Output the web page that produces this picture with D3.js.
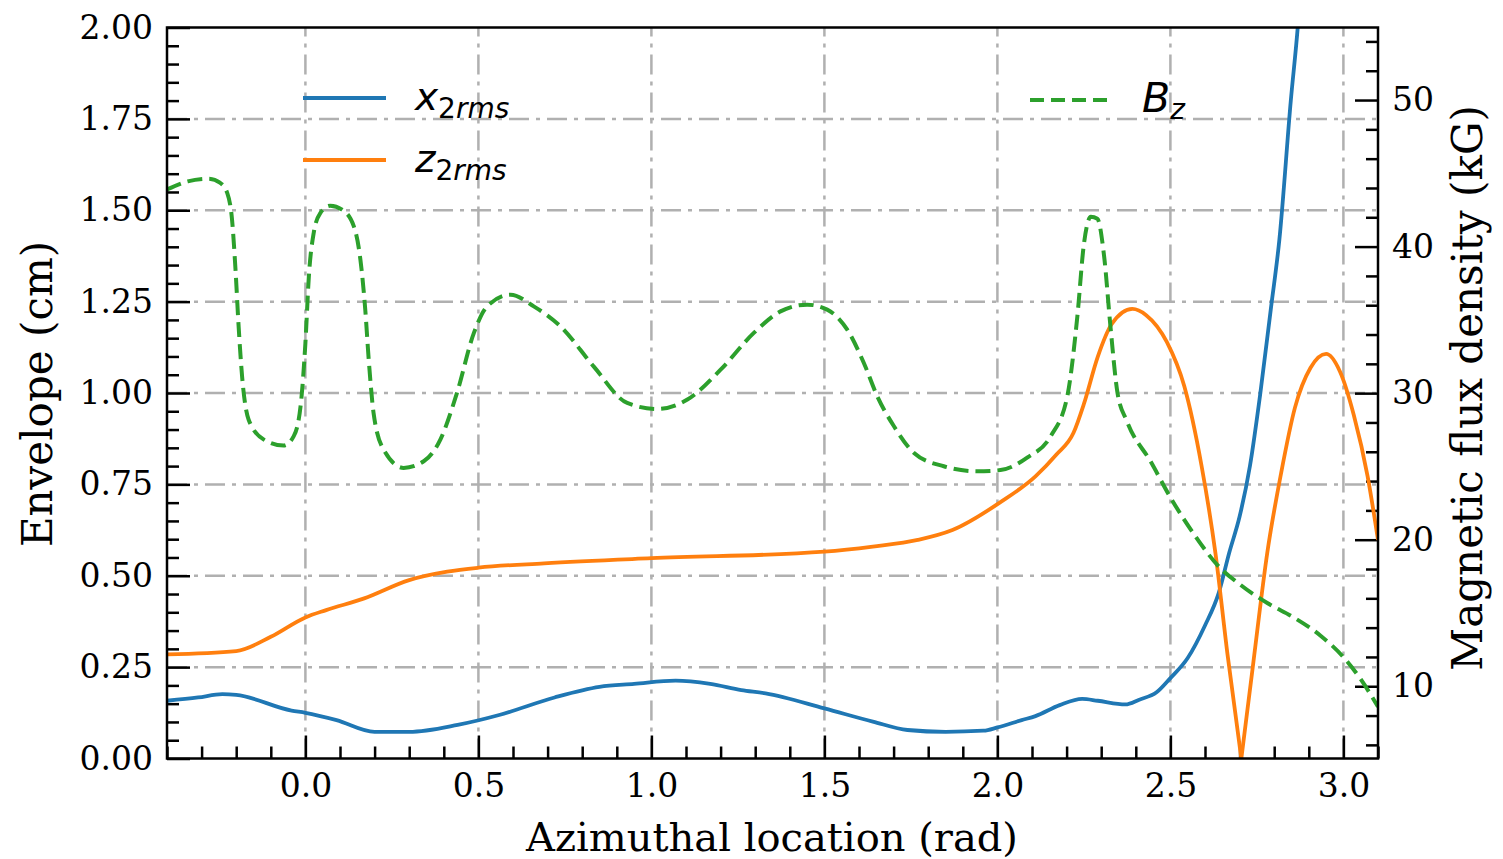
<!DOCTYPE html>
<html>
<head>
<meta charset="utf-8">
<script src="https://cdn.jsdelivr.net/npm/d3@7"></script>
<style>
  body { margin: 0; background: #fff; }
  text { font-family: "DejaVu Serif", serif; fill: #000; }
</style>
</head>
<body>
<div id="chart"></div>
<script>
//x_2rms envelope (cm) vs azimuth (rad)
var xrmsPhi = [-0.40, -0.31, -0.24, -0.20, -0.04, 0.00, 0.09, 0.20, 0.30, 0.44, 0.56, 0.72, 0.85, 0.95, 1.07, 1.17, 1.26, 1.33, 1.50, 1.64, 1.74, 1.85, 1.96, 2.00, 2.07, 2.11, 2.18, 2.245, 2.29, 2.37, 2.41, 2.46, 2.50, 2.55, 2.60, 2.64, 2.67, 2.70, 2.73, 2.76, 2.79, 2.815, 2.848, 2.868, 2.89];
var xrmsVal = [0.158, 0.167, 0.176, 0.174, 0.131, 0.125, 0.105, 0.073, 0.073, 0.092, 0.119, 0.167, 0.196, 0.204, 0.213, 0.204, 0.187, 0.178, 0.137, 0.101, 0.078, 0.073, 0.076, 0.085, 0.105, 0.116, 0.146, 0.163, 0.158, 0.148, 0.161, 0.181, 0.220, 0.275, 0.364, 0.454, 0.563, 0.662, 0.801, 1.000, 1.228, 1.42, 1.80, 2.00, 2.30];

//z_2rms envelope (cm)
var zrmsPhi = [-0.40, -0.20, -0.10, 0.00, 0.06, 0.17, 0.30, 0.41, 0.50, 0.69, 1.00, 1.50, 1.64, 1.77, 1.87, 2.01, 2.11, 2.17, 2.22, 2.25, 2.29, 2.33, 2.39, 2.43, 2.49, 2.54, 2.59, 2.63, 2.665, 2.705, 2.74, 2.78, 2.82, 2.86, 2.905, 2.95, 2.99, 3.03, 3.07, 3.10];
var zrmsVal = [0.285, 0.294, 0.333, 0.386, 0.406, 0.438, 0.488, 0.511, 0.522, 0.534, 0.548, 0.566, 0.580, 0.598, 0.625, 0.702, 0.772, 0.831, 0.891, 0.970, 1.099, 1.188, 1.230, 1.213, 1.139, 1.019, 0.801, 0.563, 0.285, 0.0, 0.265, 0.563, 0.781, 0.960, 1.069, 1.107, 1.059, 0.940, 0.772, 0.598];

//Bz magnetic flux density (kG)
var bzPhi = [-0.40, -0.34, -0.28, -0.246, -0.226, -0.212, -0.202, -0.193, -0.183, -0.164, -0.120, -0.063, -0.034, -0.014, 0.000, 0.010, 0.024, 0.043, 0.072, 0.106, 0.140, 0.159, 0.173, 0.183, 0.197, 0.226, 0.284, 0.342, 0.390, 0.438, 0.487, 0.525, 0.593, 0.660, 0.737, 0.833, 0.930, 1.017, 1.104, 1.200, 1.296, 1.373, 1.450, 1.508, 1.566, 1.614, 1.653, 1.701, 1.759, 1.845, 1.942, 2.009, 2.086, 2.154, 2.202, 2.231, 2.250, 2.270, 2.289, 2.308, 2.327, 2.347, 2.375, 2.443, 2.501, 2.568, 2.636, 2.703, 2.780, 2.857, 2.934, 3.001, 3.050, 3.100];
var bzVal = [43.9, 44.45, 44.63, 44.34, 43.66, 41.83, 38.42, 34.56, 31.15, 28.19, 26.83, 26.42, 27.05, 29.10, 33.42, 37.97, 40.93, 42.29, 42.79, 42.52, 41.38, 39.11, 35.70, 32.29, 28.65, 26.15, 24.90, 25.35, 26.83, 30.01, 34.11, 35.92, 36.72, 35.92, 34.56, 31.83, 29.33, 28.92, 29.56, 31.60, 34.11, 35.58, 36.04, 35.70, 34.33, 32.06, 29.78, 27.74, 25.92, 25.01, 24.67, 24.75, 25.6, 27.06, 29.78, 35.22, 40.17, 42.03, 41.90, 39.43, 34.48, 30.03, 28.05, 25.33, 22.85, 20.38, 18.27, 16.91, 15.68, 14.69, 13.45, 11.96, 10.48, 8.6];

//tick values
var xMajor = [0.0, 0.5, 1.0, 1.5, 2.0, 2.5, 3.0];
var yMajor = [0.00, 0.25, 0.50, 0.75, 1.00, 1.25, 1.50, 1.75, 2.00];
var bMajor = [10, 20, 30, 40, 50];

var xMinor = d3.range(-4, 32).filter(function(i) { return ((i % 5) + 5) % 5 !== 0; }).map(function(i) { return i / 10; });
var yMinor = d3.range(1, 40).filter(function(i) { return i % 5 !== 0; }).map(function(i) { return i * 0.05; });
var bMinor = d3.range(6, 56, 2).filter(function(v) { return v % 10 !== 0; });

//set the dimensions and margins of the graph
var margin = {top: 27.5, right: 125, bottom: 100.5, left: 167},
    width = 1503 - margin.left - margin.right,
    height = 859 - margin.top - margin.bottom;

var svg = d3.select("#chart").append("svg")
    .attr("width", 1503)
    .attr("height", 859)
    .append("g")
    .attr("transform", "translate(" + margin.left + "," + margin.top + ")");

var x = d3.scaleLinear().domain([-0.4, 3.1]).range([0, width]);
var y = d3.scaleLinear().domain([0, 2]).range([height, 0]);
var yB = d3.scaleLinear().domain([5.07, 54.95]).range([height, 0]);

svg.append("defs").append("clipPath").attr("id", "clip")
    .append("rect").attr("width", width).attr("height", height);

//grid
var grid = svg.append("g").attr("stroke", "#b0b0b0").attr("stroke-width", 2.5)
    .attr("stroke-dasharray", "20,7,4,7");
grid.selectAll(".gx").data(xMajor).join("line")
    .attr("x1", function(d) { return x(d); }).attr("x2", function(d) { return x(d); })
    .attr("y1", height).attr("y2", 0);
grid.selectAll(".gy").data(yMajor.slice(1, -1)).join("line")
    .attr("y1", function(d) { return y(d); }).attr("y2", function(d) { return y(d); })
    .attr("x1", 0).attr("x2", width);

//axes with inward ticks
function styleAxis(g, fs) {
    g.select(".domain").remove();
    g.selectAll("line").attr("stroke", "#000").attr("stroke-width", 2.5);
    g.selectAll("text").style("font-family", "DejaVu Serif").style("font-size", fs + "px").attr("fill", "#000");
}

svg.append("g").attr("transform", "translate(0," + height + ")")
    .call(d3.axisBottom(x).tickValues(xMinor).tickSize(-12).tickFormat(""))
    .call(styleAxis, 33);
svg.append("g").attr("transform", "translate(0," + height + ")")
    .call(d3.axisBottom(x).tickValues(xMajor).tickSize(-23).tickPadding(15).tickFormat(d3.format(".1f")))
    .call(styleAxis, 33);

svg.append("g")
    .call(d3.axisLeft(y).tickValues(yMinor).tickSize(-12).tickFormat(""))
    .call(styleAxis, 33);
svg.append("g")
    .call(d3.axisLeft(y).tickValues(yMajor).tickSize(-23).tickPadding(14).tickFormat(d3.format(".2f")))
    .call(styleAxis, 33);

svg.append("g").attr("transform", "translate(" + width + ",0)")
    .call(d3.axisRight(yB).tickValues(bMinor).tickSize(-12).tickFormat(""))
    .call(styleAxis, 33);
svg.append("g").attr("transform", "translate(" + width + ",0)")
    .call(d3.axisRight(yB).tickValues(bMajor).tickSize(-23).tickPadding(14).tickFormat(d3.format("d")))
    .call(styleAxis, 33);

//data lines
var plot = svg.append("g").attr("clip-path", "url(#clip)");
var lineY = d3.line().curve(d3.curveMonotoneX)
    .x(function(d) { return x(d[0]); }).y(function(d) { return y(d[1]); });
var lineB = d3.line().curve(d3.curveMonotoneX)
    .x(function(d) { return x(d[0]); }).y(function(d) { return yB(d[1]); });

var xrms = d3.zip(xrmsPhi, xrmsVal);
var zrms = d3.zip(zrmsPhi, zrmsVal);
var bz = d3.zip(bzPhi, bzVal);

plot.append("path").datum(xrms).attr("d", lineY)
    .attr("fill", "none").attr("stroke", "#1f77b4").attr("stroke-width", 3.8);

//z_2rms has a sharp zero, draw as two pieces so the V stays sharp
var zMin = d3.minIndex(zrmsVal);
[zrms.slice(0, zMin + 1), zrms.slice(zMin)].forEach(function(seg) {
    plot.append("path").datum(seg).attr("d", lineY)
        .attr("fill", "none").attr("stroke", "#ff7f0e").attr("stroke-width", 3.8);
});

plot.append("path").datum(bz).attr("d", lineB)
    .attr("fill", "none").attr("stroke", "#2ca02c").attr("stroke-width", 4)
    .attr("stroke-dasharray", "15,7");

//frame
svg.append("rect").attr("width", width).attr("height", height)
    .attr("fill", "none").attr("stroke", "#000").attr("stroke-width", 2.5);

//axis labels
svg.append("text").attr("x", 772 - margin.left).attr("y", 851 - margin.top)
    .attr("text-anchor", "middle").style("font-size", "40px").text("Azimuthal location (rad)");
svg.append("text").attr("transform", "translate(" + (52 - margin.left) + "," + (394 - margin.top) + ") rotate(-90)")
    .attr("text-anchor", "middle").style("font-size", "42px").text("Envelope (cm)");
svg.append("text").attr("transform", "translate(" + (1482 - margin.left) + "," + (388 - margin.top) + ") rotate(-90)")
    .attr("text-anchor", "middle").style("font-size", "42px").text("Magnetic flux density (kG)");

//legends
var legendLeft = [
    {name: "x", color: "#1f77b4", ly: 98},
    {name: "z", color: "#ff7f0e", ly: 160}
];
legendLeft.forEach(function(d) {
    svg.append("line").attr("x1", 303 - margin.left).attr("x2", 386 - margin.left)
        .attr("y1", d.ly - margin.top).attr("y2", d.ly - margin.top)
        .attr("stroke", d.color).attr("stroke-width", 4);
    var t = svg.append("text").attr("x", 415 - margin.left).attr("y", d.ly + 12 - margin.top)
        .style("font-family", "DejaVu Sans").style("font-size", "39px");
    t.append("tspan").style("font-style", "italic").text(d.name);
    t.append("tspan").attr("dy", 8).style("font-size", "28px").text("2");
    t.append("tspan").style("font-size", "28px").style("font-style", "italic").text("rms");
});

svg.append("line").attr("x1", 1030 - margin.left).attr("x2", 1109 - margin.left)
    .attr("y1", 100 - margin.top).attr("y2", 100 - margin.top)
    .attr("stroke", "#2ca02c").attr("stroke-width", 4).attr("stroke-dasharray", "14,7");
var tb = svg.append("text").attr("x", 1142 - margin.left).attr("y", 112 - margin.top)
    .style("font-family", "DejaVu Sans").style("font-size", "41px");
tb.append("tspan").style("font-style", "italic").text("B");
tb.append("tspan").attr("dy", 7).style("font-size", "28px").style("font-style", "italic").text("z");
</script>
</body>
</html>
